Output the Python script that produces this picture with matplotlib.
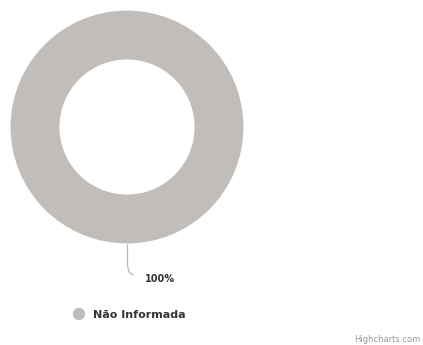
import matplotlib.pyplot as plt
from matplotlib.patches import Circle

# Data
labels = ['Não Informada']
values = [100]
colors = ['#c0bdba']

fig = plt.figure(figsize=(4.23, 3.45), dpi=100)
ax = fig.add_axes([0, 0, 1, 1])

# donut in pixel coords
wedges, _ = ax.pie(values, colors=colors, center=(127, 127), radius=117,
                   startangle=90, counterclock=False,
                   wedgeprops=dict(width=50, edgecolor='white', linewidth=0.8))

ax.set_xlim(0, 423)
ax.set_ylim(345, 0)
ax.set_aspect('equal')
ax.axis('off')

# data label with connector
total = sum(values)
pct = values[0] / total * 100
ax.plot([127.5, 127.5, 129, 133], [245, 266, 272, 275], color='#b5b5b5', lw=0.9)
ax.text(145, 279, '%d%%' % pct, fontsize=7, fontweight='bold',
        color='#333333', va='center', ha='left', family='DejaVu Sans')

# legend
ax.add_patch(Circle((79, 314), 5.5, color=colors[0]))
ax.text(93, 314.5, labels[0], fontsize=8, fontweight='bold', color='#333333',
        va='center', ha='left', family='DejaVu Sans')

# credits
ax.text(420, 339, 'Highcharts.com', fontsize=6, color='#999999',
        va='center', ha='right')

plt.savefig('out.png', dpi=100)
